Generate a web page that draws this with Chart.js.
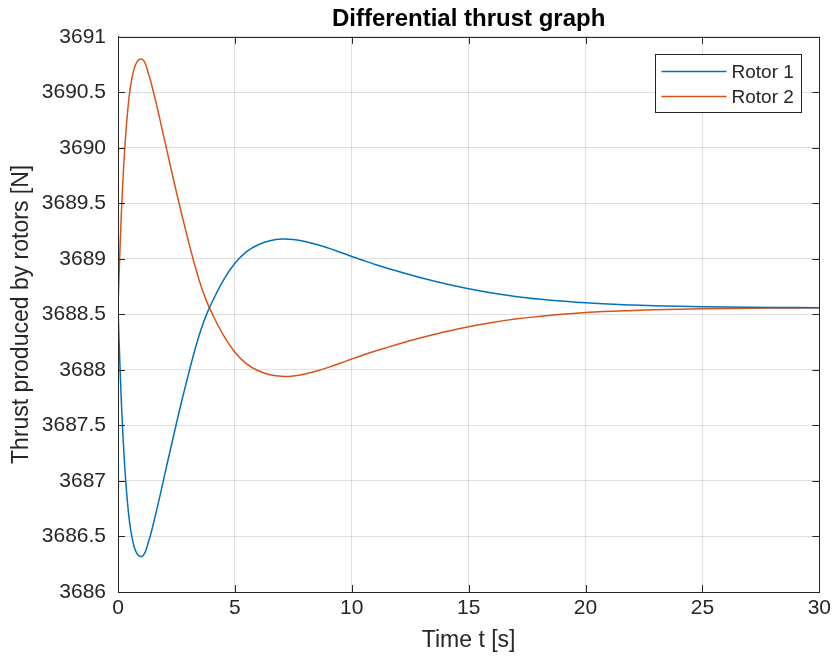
<!DOCTYPE html>
<html>
<head>
<meta charset="utf-8">
<script src="https://cdn.jsdelivr.net/npm/chart.js@4/dist/chart.umd.min.js"></script>
<style>
  html, body { margin:0; padding:0; background:#fff; }
  #wrap { width:835px; height:666px; }
</style>
</head>
<body>
<div id="wrap"><canvas id="thrustChart" width="835" height="666"></canvas></div>
<script>
// values
const time = [0, 0.1, 0.2, 0.3, 0.4, 0.5, 0.6, 0.7, 0.8, 0.9, 1.0, 1.1, 1.2, 1.3, 1.4, 1.6, 1.8,
  2.0, 2.25, 2.5, 2.75, 3.0, 3.25, 3.5, 3.75, 4.0, 4.5, 5.0, 5.5, 6, 6.5, 7, 7.5, 8, 8.5, 9,
  9.5, 10, 10.5, 11, 12, 13, 14, 15, 16, 17, 18, 20, 22, 24, 26, 28, 30];

const rotor1 = [3688.56, 3687.94, 3687.46, 3687.09, 3686.82, 3686.62, 3686.49, 3686.40, 3686.35,
  3686.325, 3686.32, 3686.335, 3686.38, 3686.45, 3686.52, 3686.69, 3686.87, 3687.06, 3687.29,
  3687.52, 3687.74, 3687.95, 3688.15, 3688.33, 3688.48, 3688.60, 3688.805, 3688.96, 3689.065,
  3689.127, 3689.163, 3689.178, 3689.174, 3689.157, 3689.13, 3689.097, 3689.06, 3689.022,
  3688.985, 3688.95, 3688.886, 3688.828, 3688.776, 3688.731, 3688.693, 3688.662, 3688.638,
  3688.604, 3688.585, 3688.573, 3688.567, 3688.563, 3688.56];

const rotor2 = [3688.56, 3689.18, 3689.66, 3690.03, 3690.30, 3690.50, 3690.63, 3690.72, 3690.77,
  3690.795, 3690.80, 3690.785, 3690.74, 3690.67, 3690.60, 3690.43, 3690.25, 3690.06, 3689.83,
  3689.60, 3689.38, 3689.17, 3688.97, 3688.79, 3688.64, 3688.52, 3688.315, 3688.16, 3688.055,
  3687.993, 3687.957, 3687.942, 3687.946, 3687.963, 3687.99, 3688.023, 3688.06, 3688.098,
  3688.135, 3688.17, 3688.234, 3688.292, 3688.344, 3688.389, 3688.427, 3688.458, 3688.482,
  3688.516, 3688.535, 3688.547, 3688.553, 3688.557, 3688.56];

const seriesNames = ['Rotor 1', 'Rotor 2'];
const seriesColors = ['#0072BD', '#D95319'];

const FONT = '"Liberation Sans", Arial, Helvetica, sans-serif';
const AXIS_COLOR = '#262626';

function pts(ys) { return time.map((t, i) => ({ x: t, y: ys[i] })); }

// box round the axes + inward ticks on all four sides (matlab style)
const boxPlugin = {
  id: 'box',
  afterDatasetsDraw(chart) {
    const { ctx, chartArea: a, scales } = chart;
    const len = 7;
    ctx.save();
    ctx.strokeStyle = AXIS_COLOR;
    ctx.lineWidth = 1;
    ctx.beginPath();
    scales.x.ticks.forEach(tk => {
      const px = Math.round(scales.x.getPixelForValue(tk.value)) + 0.5;
      ctx.moveTo(px, a.bottom); ctx.lineTo(px, a.bottom - len);
      ctx.moveTo(px, a.top); ctx.lineTo(px, a.top + len);
    });
    scales.y.ticks.forEach(tk => {
      const py = Math.round(scales.y.getPixelForValue(tk.value)) + 0.5;
      ctx.moveTo(a.left, py); ctx.lineTo(a.left + len, py);
      ctx.moveTo(a.right, py); ctx.lineTo(a.right - len, py);
    });
    ctx.stroke();
    ctx.strokeRect(Math.round(a.left) + 0.5, Math.round(a.top) + 0.5,
      Math.round(a.right - a.left), Math.round(a.bottom - a.top));
    ctx.restore();
  }
};

// legend drawn inside the plot, top right
const insideLegend = {
  id: 'insideLegend',
  afterDraw(chart) {
    const { ctx, chartArea: a } = chart;
    const w = 146, h = 58;
    const left = Math.round(a.right - 18 - w) + 0.5;
    const top = Math.round(a.top + 17) + 0.5;
    ctx.save();
    ctx.fillStyle = '#fff';
    ctx.fillRect(left, top, w, h);
    ctx.strokeStyle = AXIS_COLOR;
    ctx.lineWidth = 1;
    ctx.strokeRect(left, top, w, h);
    ctx.font = '19px ' + FONT;
    ctx.textBaseline = 'middle';
    chart.data.datasets.forEach((ds, i) => {
      const y = top + 17 + i * 25;
      ctx.strokeStyle = ds.borderColor;
      ctx.lineWidth = 1.5;
      ctx.beginPath();
      ctx.moveTo(left + 6, y); ctx.lineTo(left + 71, y);
      ctx.stroke();
      ctx.fillStyle = AXIS_COLOR;
      ctx.fillText(ds.label, left + 76, y + 1);
    });
    ctx.restore();
  }
};

const ctx = document.getElementById('thrustChart').getContext('2d');
new Chart(ctx, {
  type: 'line',
  data: {
    datasets: [
      { label: seriesNames[0], data: pts(rotor1), borderColor: seriesColors[0], borderWidth: 1.5,
        pointRadius: 0, tension: 0.4, fill: false },
      { label: seriesNames[1], data: pts(rotor2), borderColor: seriesColors[1], borderWidth: 1.5,
        pointRadius: 0, tension: 0.4, fill: false }
    ]
  },
  options: {
    responsive: false,
    animation: false,
    layout: { padding: { left: 0, right: 13, top: 0, bottom: 0 } },
    plugins: {
      legend: { display: false },
      tooltip: { enabled: false },
      title: {
        display: true,
        fullSize: false,
        text: 'Differential thrust graph',
        color: '#000',
        font: { family: FONT, size: 24, weight: 'bold' },
        padding: { top: 5, bottom: 3 }
      }
    },
    scales: {
      x: {
        type: 'linear', min: 0, max: 30,
        ticks: { stepSize: 5, color: AXIS_COLOR, padding: 4, maxRotation: 0,
          font: { family: FONT, size: 21 } },
        grid: { color: 'rgba(38,38,38,0.15)', drawTicks: false },
        border: { color: AXIS_COLOR },
        title: { display: true, text: 'Time t [s]', color: AXIS_COLOR,
          font: { family: FONT, size: 23 }, padding: { top: 0, bottom: 12 } },
        afterFit(s) { s.height = 74; }
      },
      y: {
        type: 'linear', min: 3686, max: 3691,
        ticks: { stepSize: 0.5, color: AXIS_COLOR, padding: 12,
          font: { family: FONT, size: 21 },
          callback: v => String(Math.round(v * 10) / 10) },
        grid: { color: 'rgba(38,38,38,0.15)', drawTicks: false },
        border: { color: AXIS_COLOR },
        title: { display: true, text: 'Thrust produced by rotors [N]', color: AXIS_COLOR,
          font: { family: FONT, size: 23 }, padding: { top: 8, bottom: 0 } },
        afterFit(s) { s.width = 118; }
      }
    }
  },
  plugins: [boxPlugin, insideLegend]
});
</script>
</body>
</html>
